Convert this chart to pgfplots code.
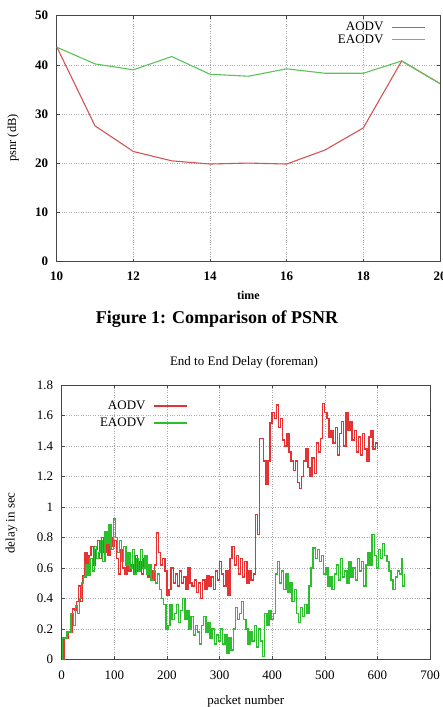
\documentclass[border=0pt]{standalone}
\usepackage{fontspec}
\setmainfont{Liberation Serif}
\usepackage{pgfplots}
\usepackage{pgfplotstable}
\pgfplotsset{compat=1.18}

\definecolor{aodvtop}{RGB}{210,85,85}
\definecolor{eaodvtop}{RGB}{90,195,90}
\definecolor{aodvred}{RGB}{230,50,50}
\definecolor{eaodvgreen}{RGB}{45,190,45}
\definecolor{gridgray}{RGB}{170,170,170}
\definecolor{framegray}{RGB}{70,70,70}

% PSNR over time
\pgfplotstableread{
t   aodv  eaodv
10  43.7  43.6
11  27.6  40.2
12  22.4  39.0
13  20.5  41.7
14  19.85 38.1
15  20.05 37.7
16  19.85 39.2
17  22.7  38.3
18  27.2  38.3
19  40.8  40.8
20  36.2  36.2
}\psnrtable

% end-to-end delay per packet, AODV
\pgfplotstableread{
p d
0 0.00
4 0.14
8 0.14
12 0.18
16 0.18
20 0.33
24 0.32
28 0.38
32 0.48
36 0.38
40 0.55
44 0.70
48 0.58
52 0.68
56 0.74
60 0.62
64 0.72
68 0.78
72 0.66
76 0.80
80 0.70
84 0.76
88 0.68
92 0.80
96 0.74
100 0.78
104 0.66
108 0.56
112 0.72
116 0.60
120 0.56
124 0.66
128 0.58
132 0.62
136 0.56
140 0.68
144 0.58
148 0.64
152 0.56
156 0.66
160 0.60
164 0.54
168 0.58
172 0.52
176 0.62
180 0.83
184 0.70
188 0.62
192 0.66
196 0.58
200 0.42
204 0.46
208 0.60
212 0.50
216 0.56
220 0.48
224 0.58
228 0.50
232 0.54
236 0.46
240 0.60
244 0.50
248 0.48
252 0.52
256 0.44
260 0.50
264 0.40
268 0.52
272 0.46
276 0.55
280 0.48
284 0.54
288 0.46
292 0.58
296 0.52
300 0.64
304 0.56
308 0.48
312 0.58
316 0.42
320 0.66
324 0.74
328 0.62
332 0.68
336 0.56
340 0.66
344 0.54
348 0.64
352 0.50
356 0.58
360 0.52
364 0.56
368 0.95
372 0.82
376 1.45
380 1.45
384 1.30
388 1.15
392 1.30
396 1.55
400 1.62
404 1.58
408 1.67
412 1.52
416 1.58
420 1.44
424 1.40
428 1.48
432 1.36
436 1.30
440 1.24
444 1.30
448 1.16
452 1.12
456 1.20
460 1.30
464 1.38
468 1.26
472 1.20
476 1.32
480 1.22
484 1.42
488 1.36
492 1.45
496 1.68
500 1.62
504 1.58
508 1.46
512 1.50
516 1.42
520 1.52
524 1.34
528 1.48
532 1.56
536 1.40
540 1.62
544 1.50
548 1.56
552 1.44
556 1.50
560 1.36
564 1.46
568 1.34
572 1.48
576 1.38
580 1.30
584 1.46
588 1.50
592 1.38
596 1.42
600 1.38
}\delayaodv

% end-to-end delay per packet, EAODV
\pgfplotstableread{
p d
0 0.00
2 0.14
6 0.14
10 0.18
14 0.18
18 0.30
22 0.22
26 0.35
30 0.30
34 0.40
38 0.50
42 0.54
46 0.62
50 0.55
54 0.66
58 0.58
62 0.74
66 0.66
70 0.70
74 0.78
78 0.64
82 0.84
86 0.76
90 0.88
94 0.72
98 0.92
102 0.80
106 0.70
110 0.78
114 0.64
118 0.74
122 0.62
126 0.70
130 0.60
134 0.72
138 0.56
142 0.66
146 0.58
150 0.72
154 0.60
158 0.68
162 0.56
166 0.62
170 0.52
174 0.58
178 0.50
182 0.56
186 0.46
190 0.40
194 0.36
198 0.20
202 0.22
206 0.36
210 0.26
214 0.30
218 0.36
222 0.24
226 0.32
230 0.40
234 0.26
238 0.32
242 0.20
246 0.28
250 0.16
254 0.22
258 0.18
262 0.10
266 0.22
270 0.28
274 0.18
278 0.24
282 0.14
286 0.20
290 0.10
294 0.16
298 0.12
302 0.20
306 0.10
310 0.16
314 0.04
318 0.14
322 0.06
326 0.20
330 0.34
334 0.26
338 0.30
342 0.38
346 0.26
350 0.20
354 0.10
358 0.18
362 0.12
366 0.22
370 0.08
374 0.20
378 0.12
382 0.02
386 0.30
390 0.22
394 0.32
398 0.26
402 0.30
406 0.56
410 0.64
414 0.50
418 0.58
422 0.46
426 0.56
430 0.44
434 0.50
438 0.38
442 0.46
446 0.30
450 0.24
454 0.34
458 0.28
462 0.36
466 0.30
470 0.48
474 0.60
478 0.73
482 0.66
486 0.72
490 0.64
494 0.68
498 0.56
502 0.60
506 0.48
510 0.54
514 0.46
518 0.56
522 0.62
526 0.52
530 0.66
534 0.54
538 0.58
542 0.50
546 0.64
550 0.54
554 0.60
558 0.52
562 0.66
566 0.58
570 0.64
574 0.48
578 0.62
582 0.70
586 0.62
590 0.82
594 0.68
598 0.60
602 0.72
606 0.66
610 0.76
614 0.68
618 0.64
622 0.58
626 0.52
630 0.46
634 0.54
638 0.58
642 0.56
646 0.66
648 0.48
652 0.56
}\delayeaodv

\pgfplotsset{
  gnustyle/.style={
    scale only axis,
    axis line style={framegray, line width=0.6pt},
    grid=major,
    major grid style={gridgray, dotted, line width=0.5pt},
    tick align=inside,
    tick pos=both,
    major tick length=3pt,
    tick style={framegray, line width=0.5pt},
    /pgf/number format/assume math mode=true,
    legend style={draw=none, fill=none, font=\fontsize{13}{13}\selectfont,
      column sep=6pt},
    legend cell align=right,
    legend plot pos=right,
    legend image code/.code={\draw[##1, line width=1.6pt] (0pt,0pt) -- (33pt,0pt);},
  },
}

\begin{document}
\begin{tikzpicture}

% PSNR
\begin{axis}[
  gnustyle,
  at={(56.7pt,445.3pt)}, anchor=south west,
  width=383.3pt, height=246pt,
  xmin=10, xmax=20, ymin=0, ymax=50,
  xtick={10,12,...,20}, ytick={0,10,...,50},
  ticklabel style={font=\bfseries\fontsize{13}{13}\selectfont},
  yticklabel style={xshift=-5pt},
  xticklabel style={yshift=-7pt},
  xlabel={time},
  xlabel style={at={(axis description cs:0.5,-0.139)}, anchor=center,
    font=\bfseries\fontsize{12}{12}\selectfont},
  ylabel={psnr (dB)},
  ylabel style={at={(axis description cs:-0.114,0.503)}, anchor=center,
    font=\fontsize{12.5}{12.5}\selectfont},
  legend style={at={(axis description cs:0.972,0.99)}, anchor=north east,
    row sep=-2pt},
]
\addplot[color=aodvtop, line width=1.1pt] table[x=t, y=aodv] {\psnrtable};
\addlegendentry{AODV}
\addplot[color=eaodvtop, line width=1.1pt] table[x=t, y=eaodv] {\psnrtable};
\addlegendentry{EAODV}
\end{axis}

\node[font=\bfseries\fontsize{18}{18}\selectfont] at (217pt,388pt)
  {Figure 1: Comparison of PSNR};

% End-to-end delay
\begin{axis}[
  gnustyle,
  at={(61.7pt,47.7pt)}, anchor=south west,
  width=368.3pt, height=274.3pt,
  xmin=0, xmax=700, ymin=0, ymax=1.8,
  xtick={0,100,...,700},
  ytick={0,0.2,0.4,0.6,0.8,1,1.2,1.4,1.6,1.8},
  ticklabel style={font=\fontsize{13}{13}\selectfont},
  yticklabel style={xshift=-5pt},
  xticklabel style={yshift=-8pt},
  title={End to End Delay (foreman)},
  title style={at={(axis description cs:0.495,1.0)}, anchor=south, yshift=7pt,
    font=\fontsize{13}{13}\selectfont},
  xlabel={packet number},
  xlabel style={at={(axis description cs:0.5,-0.152)}, anchor=center,
    font=\fontsize{13}{13}\selectfont},
  ylabel={delay in sec},
  ylabel style={at={(axis description cs:-0.136,0.497)}, anchor=center,
    font=\fontsize{13}{13}\selectfont},
  legend style={at={(axis description cs:0.090,0.958)}, anchor=north west,
    row sep=3pt},
]
\addplot[color=aodvred, line width=1.4pt, const plot] table[x=p, y=d] {\delayaodv};
\addlegendentry{AODV}
\addplot[color=eaodvgreen, line width=1.4pt, const plot] table[x=p, y=d] {\delayeaodv};
\addlegendentry{EAODV}
\end{axis}
\pgfresetboundingbox
\path[use as bounding box] (0pt,0pt) rectangle (443pt,707pt);
\end{tikzpicture}
\end{document}
